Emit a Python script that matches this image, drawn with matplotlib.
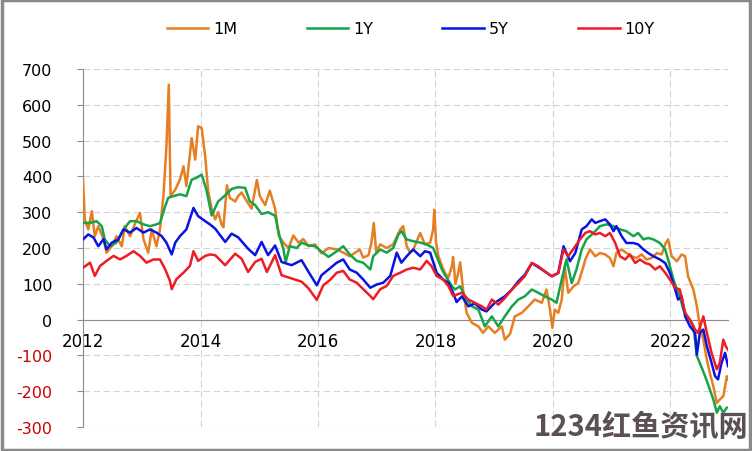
import matplotlib.pyplot as plt
from matplotlib.patches import Rectangle

## Datos (año decimal, puntos base)
m1_t = [2012.00, 2012.03, 2012.09, 2012.15, 2012.20, 2012.26, 2012.35, 2012.40, 2012.49, 2012.57,
        2012.66, 2012.71, 2012.80, 2012.89, 2012.97, 2013.03, 2013.11, 2013.17, 2013.25, 2013.31,
        2013.37, 2013.42, 2013.46, 2013.49, 2013.57, 2013.65, 2013.71, 2013.76, 2013.85, 2013.91,
        2013.96, 2014.02, 2014.08, 2014.13, 2014.19, 2014.25, 2014.30, 2014.36, 2014.39, 2014.45,
        2014.50, 2014.59, 2014.64, 2014.70, 2014.79, 2014.87, 2014.96, 2015.01, 2015.10, 2015.18,
        2015.27, 2015.33, 2015.41, 2015.50, 2015.58, 2015.67, 2015.75, 2015.84, 2015.95, 2016.06,
        2016.18, 2016.32, 2016.43, 2016.54, 2016.66, 2016.71, 2016.77, 2016.86, 2016.91, 2016.95,
        2016.99, 2017.06, 2017.17, 2017.28, 2017.40, 2017.45, 2017.51, 2017.57, 2017.62, 2017.74,
        2017.82, 2017.91, 2017.96, 2017.98, 2018.01, 2018.05, 2018.11, 2018.16, 2018.22, 2018.28,
        2018.30, 2018.34, 2018.38, 2018.42, 2018.47, 2018.53, 2018.62, 2018.73, 2018.81, 2018.90,
        2019.01, 2019.13, 2019.18, 2019.27, 2019.35, 2019.47, 2019.58, 2019.69, 2019.81, 2019.89,
        2019.95, 2019.99, 2020.03, 2020.09, 2020.15, 2020.20, 2020.26, 2020.35, 2020.43, 2020.52,
        2020.55, 2020.63, 2020.72, 2020.80, 2020.89, 2020.97, 2021.03, 2021.08, 2021.17, 2021.25,
        2021.34, 2021.42, 2021.51, 2021.59, 2021.68, 2021.77, 2021.85, 2021.92, 2021.96, 2022.02,
        2022.11, 2022.19, 2022.25, 2022.30, 2022.39, 2022.45, 2022.50, 2022.56, 2022.62, 2022.67,
        2022.73, 2022.79, 2022.84, 2022.90, 2022.96, 2022.98]
m1_v = [391, 280, 252, 303, 233, 261, 224, 187, 205, 233,
        205, 261, 233, 270, 298, 224, 187, 252, 205, 252,
        349, 484, 656, 345, 363, 391, 428, 373, 507, 447,
        540, 535, 456, 360, 310, 280, 300, 265, 258, 375,
        340, 330, 345, 355, 330, 310, 390, 345, 320, 360,
        310, 235, 215, 200, 235, 215, 225, 205, 210, 185,
        200, 196, 187, 177, 190, 196, 173, 180, 215, 270,
        190, 210, 200, 210, 252, 261, 205, 187, 195, 242,
        210, 215, 252, 307, 215, 177, 150, 131, 117, 150,
        175, 100, 125, 160, 84, 19, -9, -19, -37, -19,
        -37, -19, -56, -40, 9, 19, 37, 56, 47, 84,
        28, -23, 28, 19, 56, 149, 75, 93, 102, 149,
        168, 196, 177, 186, 182, 172, 149, 186, 196, 186,
        177, 172, 182, 168, 172, 186, 182, 214, 224, 177,
        163, 182, 177, 121, 84, 37, -18, -56, -112, -149,
        -186, -233, -223, -214, -158, -167]

y1_t = [2012.00, 2012.12, 2012.23, 2012.32, 2012.37, 2012.46, 2012.57, 2012.69, 2012.80, 2012.91,
        2013.03, 2013.14, 2013.25, 2013.31, 2013.40, 2013.45, 2013.54, 2013.65, 2013.76, 2013.85,
        2013.93, 2014.02, 2014.10, 2014.19, 2014.30, 2014.42, 2014.53, 2014.64, 2014.76, 2014.84,
        2014.93, 2015.04, 2015.15, 2015.27, 2015.35, 2015.41, 2015.45, 2015.52, 2015.64, 2015.72,
        2015.84, 2015.95, 2016.06, 2016.18, 2016.32, 2016.43, 2016.54, 2016.66, 2016.77, 2016.89,
        2016.94, 2017.06, 2017.17, 2017.28, 2017.37, 2017.42, 2017.51, 2017.62, 2017.74, 2017.85,
        2017.96, 2018.02, 2018.11, 2018.19, 2018.28, 2018.33, 2018.42, 2018.50, 2018.62, 2018.73,
        2018.84, 2018.96, 2019.07, 2019.18, 2019.30, 2019.41, 2019.52, 2019.64, 2019.75, 2019.86,
        2019.98, 2020.06, 2020.15, 2020.23, 2020.32, 2020.40, 2020.49, 2020.57, 2020.69, 2020.80,
        2020.91, 2021.03, 2021.14, 2021.25, 2021.37, 2021.45, 2021.54, 2021.62, 2021.71, 2021.82,
        2021.91, 2021.96, 2022.05, 2022.11, 2022.16, 2022.22, 2022.28, 2022.33, 2022.39, 2022.45,
        2022.50, 2022.59, 2022.67, 2022.73, 2022.79, 2022.84, 2022.90, 2022.96]
y1_v = [270, 270, 275, 261, 224, 205, 215, 252, 275, 275,
        266, 261, 266, 270, 317, 340, 345, 350, 345, 391,
        396, 405, 363, 291, 330, 347, 365, 370, 368, 330,
        320, 295, 300, 290, 230, 198, 160, 205, 200, 215,
        207, 205, 190, 175, 191, 205, 182, 164, 159, 140,
        177, 196, 187, 200, 238, 247, 224, 219, 215, 210,
        200, 177, 140, 117, 94, 84, 93, 65, 37, 28,
        -19, 9, -19, 9, 37, 56, 65, 84, 75, 65,
        56, 47, 112, 168, 102, 140, 196, 224, 242, 261,
        266, 261, 252, 247, 233, 242, 224, 228, 224, 214,
        196, 168, 112, 84, 65, 28, 9, 0, -18, -102,
        -121, -158, -195, -223, -260, -242, -260, -246]

y5_t = [2012.00, 2012.09, 2012.18, 2012.26, 2012.35, 2012.40, 2012.49, 2012.60, 2012.69, 2012.80,
        2012.91, 2013.03, 2013.14, 2013.25, 2013.34, 2013.42, 2013.51, 2013.57, 2013.65, 2013.76,
        2013.88, 2013.96, 2014.08, 2014.16, 2014.25, 2014.42, 2014.53, 2014.64, 2014.81, 2014.93,
        2015.04, 2015.15, 2015.27, 2015.38, 2015.55, 2015.72, 2015.84, 2015.98, 2016.06, 2016.18,
        2016.32, 2016.43, 2016.54, 2016.66, 2016.77, 2016.89, 2017.00, 2017.11, 2017.23, 2017.34,
        2017.42, 2017.51, 2017.62, 2017.74, 2017.82, 2017.91, 2018.02, 2018.13, 2018.22, 2018.30,
        2018.36, 2018.45, 2018.56, 2018.67, 2018.79, 2018.87, 2019.01, 2019.18, 2019.30, 2019.41,
        2019.52, 2019.64, 2019.81, 2019.98, 2020.09, 2020.18, 2020.29, 2020.38, 2020.49, 2020.57,
        2020.66, 2020.72, 2020.80, 2020.89, 2020.97, 2021.03, 2021.08, 2021.17, 2021.25, 2021.37,
        2021.45, 2021.54, 2021.62, 2021.71, 2021.82, 2021.91, 2021.99, 2022.08, 2022.13, 2022.19,
        2022.25, 2022.33, 2022.42, 2022.45, 2022.50, 2022.56, 2022.62, 2022.70, 2022.76, 2022.81,
        2022.87, 2022.93, 2022.98]
y5_v = [224, 238, 229, 205, 225, 196, 215, 224, 252, 243,
        256, 243, 252, 243, 233, 215, 182, 215, 233, 252,
        312, 289, 275, 266, 254, 217, 240, 230, 198, 180,
        217, 180, 207, 161, 152, 166, 133, 96, 124, 140,
        159, 168, 140, 131, 112, 89, 98, 103, 122, 187,
        159, 177, 196, 177, 191, 187, 131, 112, 103, 75,
        49, 65, 37, 45, 28, 23, 47, 65, 84, 107,
        125, 158, 140, 121, 130, 205, 163, 186, 252, 261,
        280, 270, 275, 280, 266, 247, 261, 233, 214, 214,
        210, 196, 186, 177, 168, 158, 131, 84, 56, 65,
        9, -18, -37, -98, -37, -28, -74, -121, -158, -167,
        -121, -93, -130]

y10_t = [2012.00, 2012.12, 2012.20, 2012.29, 2012.40, 2012.52, 2012.63, 2012.74, 2012.86, 2012.97,
         2013.08, 2013.20, 2013.31, 2013.40, 2013.48, 2013.51, 2013.59, 2013.71, 2013.82, 2013.88,
         2013.96, 2014.08, 2014.16, 2014.25, 2014.42, 2014.59, 2014.70, 2014.81, 2014.93, 2015.04,
         2015.13, 2015.27, 2015.38, 2015.55, 2015.72, 2015.84, 2015.98, 2016.09, 2016.20, 2016.32,
         2016.43, 2016.54, 2016.66, 2016.77, 2016.89, 2016.94, 2017.06, 2017.17, 2017.28, 2017.40,
         2017.51, 2017.62, 2017.74, 2017.85, 2017.93, 2018.02, 2018.13, 2018.22, 2018.30, 2018.45,
         2018.56, 2018.67, 2018.79, 2018.87, 2018.96, 2019.07, 2019.18, 2019.30, 2019.41, 2019.52,
         2019.64, 2019.75, 2019.86, 2019.98, 2020.09, 2020.18, 2020.26, 2020.38, 2020.46, 2020.55,
         2020.63, 2020.72, 2020.80, 2020.89, 2020.97, 2021.06, 2021.14, 2021.23, 2021.31, 2021.40,
         2021.48, 2021.57, 2021.65, 2021.74, 2021.82, 2021.91, 2021.99, 2022.08, 2022.16, 2022.25,
         2022.33, 2022.42, 2022.47, 2022.56, 2022.62, 2022.70, 2022.79, 2022.84, 2022.90, 2022.94,
         2022.98]
y10_v = [145, 159, 122, 150, 164, 178, 168, 178, 191, 178,
         159, 168, 168, 140, 108, 85, 113, 131, 150, 191,
         164, 178, 182, 180, 152, 184, 170, 133, 161, 170,
         133, 180, 124, 115, 106, 87, 55, 96, 110, 131,
         136, 112, 103, 85, 66, 57, 85, 94, 122, 131,
         140, 145, 140, 164, 150, 122, 112, 94, 66, 75,
         56, 47, 37, 28, 56, 42, 60, 84, 102, 121,
         158, 149, 135, 121, 130, 196, 177, 205, 224, 242,
         247, 238, 242, 233, 242, 214, 177, 168, 182, 158,
         168, 158, 154, 140, 149, 131, 112, 89, 84, 19,
         0, -28, -37, 9, -37, -93, -139, -121, -56, -74,
         -84]

series = [
    (m1_t, m1_v, '1M', '#E67E22'),
    (y1_t, y1_v, '1Y', '#16A34A'),
    (y5_t, y5_v, '5Y', '#0A14E0'),
    (y10_t, y10_v, '10Y', '#EE1C25'),
]
years = [2012, 2014, 2016, 2018, 2020, 2022]
yticks = [-300, -200, -100, 0, 100, 200, 300, 400, 500, 600, 700]
#############################

fig = plt.figure(figsize=(7.52, 4.52), dpi=100)
ax = fig.add_axes([0.1104, 0.0531, 0.8577, 0.7920])

for t, v, lab, col in series:
    ax.plot(t, v, color=col, lw=1.8, label=lab, zorder=3)

ax.set_xlim(2012, 2022.98)
ax.set_ylim(-300, 700)
ax.set_xticks(years)
ax.set_xticklabels([str(y) for y in years])
ax.set_yticks(yticks)
ax.set_yticklabels([str(y) for y in yticks])

ax.grid(True, color='#d4d4d4', lw=0.8, ls=(0, (6, 3)), zorder=0)
for s in ['top', 'right']:
    ax.spines[s].set_visible(False)
ax.spines['bottom'].set_position(('data', 0))
ax.spines['bottom'].set_color('#8c8c8c')
ax.spines['left'].set_color('#8c8c8c')
ax.tick_params(axis='x', length=0, pad=9, labelsize=12)
ax.tick_params(axis='y', length=4, color='#8c8c8c', pad=18, labelsize=11.5)
for lbl, val in zip(ax.get_yticklabels(), yticks):
    if val < 0:
        lbl.set_color('#CC0000')

fig.legend(loc='center', bbox_to_anchor=(0.546, 0.934), ncol=4, frameon=False,
           fontsize=11.5, handlelength=2.6, handletextpad=0.3, columnspacing=4.35)

# marco gris
fig.patches.append(Rectangle((0.002, 0.003), 0.996, 0.994, transform=fig.transFigure,
                             fill=False, edgecolor='#8a8a8a', lw=2.5))
# marca de agua
fig.text(0.995, 0.055, '1234红鱼资讯网', ha='right', va='center', fontsize=21,
         fontweight='bold', color='#5b5152', family=['Noto Sans CJK SC', 'DejaVu Sans'],
         zorder=10)

fig.savefig('out.png', dpi=100)
